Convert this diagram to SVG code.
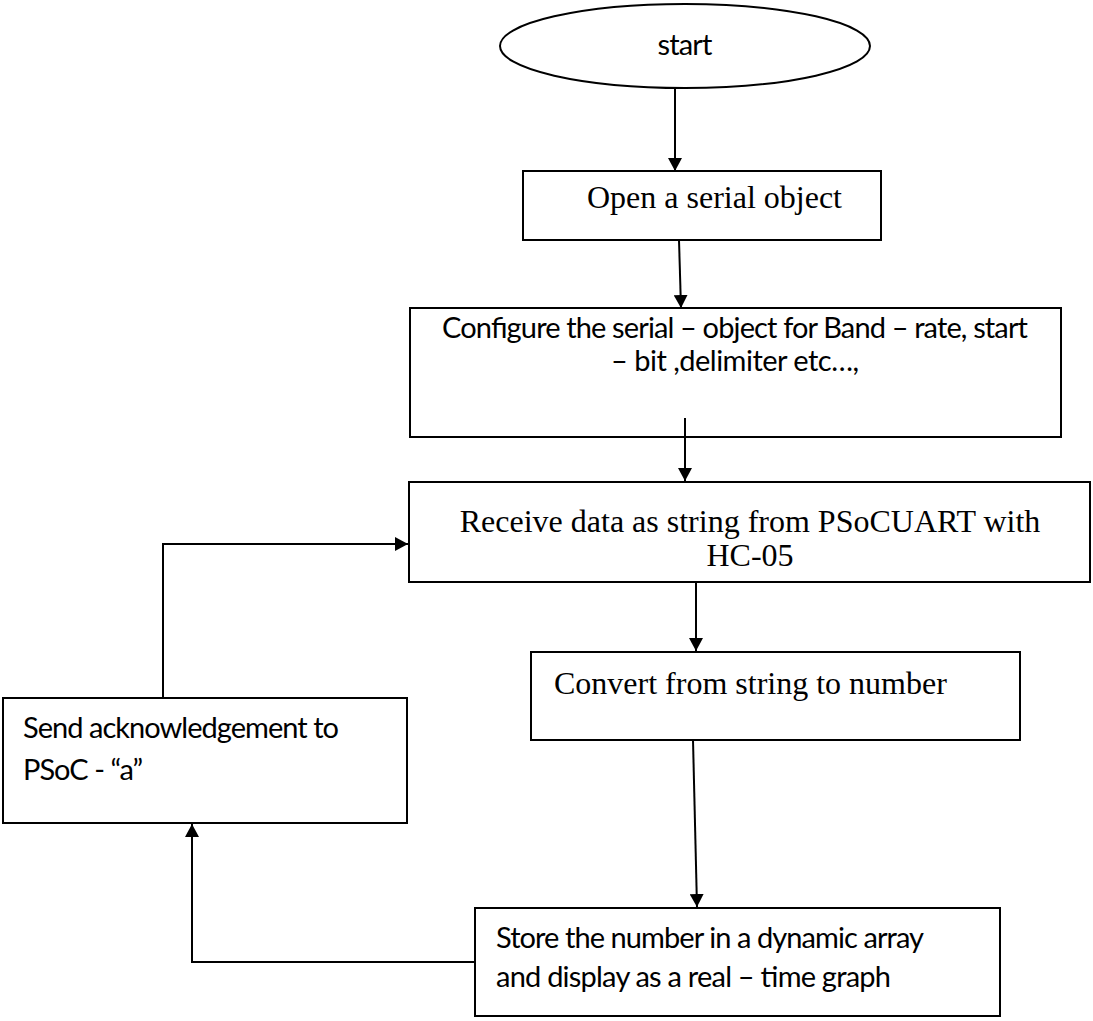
<svg xmlns="http://www.w3.org/2000/svg" width="1093" height="1021" viewBox="0 0 1093 1021">
<style>
.box{fill:#fff;stroke:#000;stroke-width:2}
.c{fill:none;stroke:#000;stroke-width:2}
.sans{font-family:"Lato","Liberation Sans",sans-serif;font-size:29px;fill:#000}
.serif{font-family:"Liberation Serif",serif;font-size:32px;fill:#000}
</style>
<defs>
<marker id="ah" markerWidth="14" markerHeight="14" refX="13" refY="7" orient="auto" markerUnits="userSpaceOnUse" viewBox="0 0 14 14">
<path d="M0,0 L13,7 L0,14 z" fill="#000"/>
</marker>
</defs>
<rect width="1093" height="1021" fill="#fff"/>
<g id="start">
<ellipse class="box" cx="685" cy="46" rx="185" ry="42"/>
<text class="sans" x="685" y="55" text-anchor="middle" textLength="55">start</text>
</g>
<g id="open">
<rect class="box" x="523" y="171" width="358" height="69"/>
<text class="serif" x="587" y="208">Open a serial object</text>
</g>
<g id="configure">
<rect class="box" x="410" y="308" width="651" height="129"/>
<text class="sans" x="735" y="338" text-anchor="middle" textLength="586">Configure the serial – object for Band – rate, start</text>
<text class="sans" x="735" y="371" text-anchor="middle" textLength="248">– bit ,delimiter etc…,</text>
</g>
<g id="receive">
<rect class="box" x="409" y="482" width="681" height="100"/>
<text class="serif" x="750" y="532" text-anchor="middle">Receive data as string from PSoCUART with</text>
<text class="serif" x="750" y="566" text-anchor="middle">HC-05</text>
</g>
<g id="convert">
<rect class="box" x="531" y="652" width="489" height="88"/>
<text class="serif" x="554" y="694">Convert from string to number</text>
</g>
<g id="send">
<rect class="box" x="3" y="698" width="404" height="125"/>
<text class="sans" x="23" y="738" textLength="316">Send acknowledgement to</text>
<text class="sans" x="23" y="780" textLength="120">PSoC - “a”</text>
</g>
<g id="store">
<rect class="box" x="475" y="908" width="525" height="108"/>
<text class="sans" x="496" y="948" textLength="428">Store the number in a dynamic array</text>
<text class="sans" x="496" y="987" textLength="395">and display as a real – time graph</text>
</g>
<g id="connectors">
<line class="c" x1="675" y1="88" x2="675" y2="171" marker-end="url(#ah)"/>
<line class="c" x1="679" y1="240" x2="681" y2="308" marker-end="url(#ah)"/>
<line class="c" x1="685" y1="418" x2="685" y2="481" marker-end="url(#ah)"/>
<line class="c" x1="696" y1="582" x2="696" y2="651" marker-end="url(#ah)"/>
<line class="c" x1="693" y1="740" x2="697" y2="907" marker-end="url(#ah)"/>
<polyline class="c" points="163,698 163,544 408,544" marker-end="url(#ah)"/>
<polyline class="c" points="475,962 192,962 192,824" marker-end="url(#ah)"/>
</g>
</svg>
